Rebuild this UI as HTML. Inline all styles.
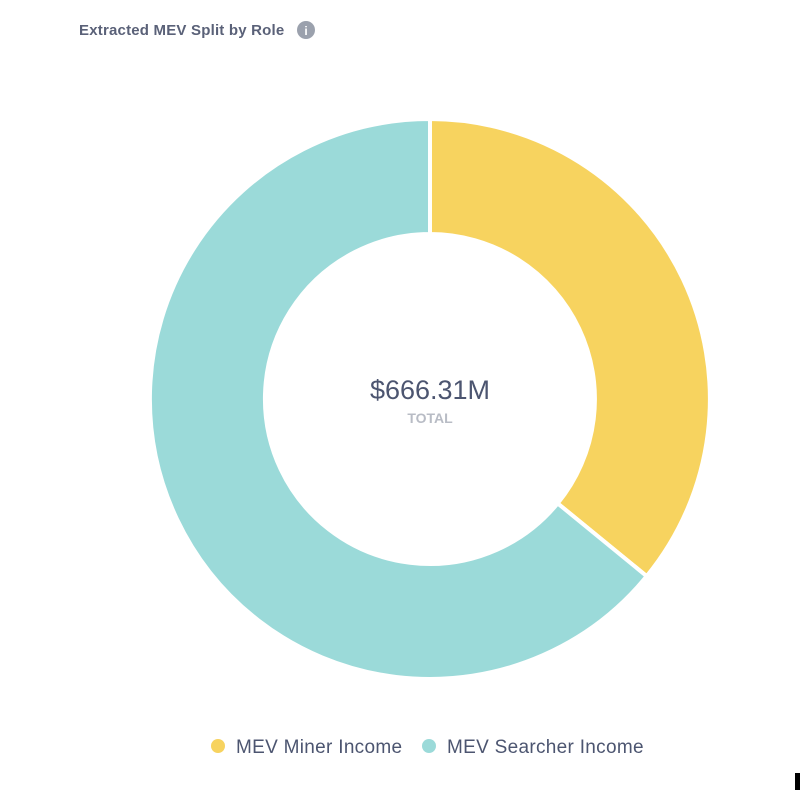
<!DOCTYPE html>
<html><head><style>
body{margin:0;width:805px;height:790px;background:#fff;overflow:hidden;font-family:"Liberation Sans",sans-serif}
</style></head><body>
<svg width="805" height="790" xmlns="http://www.w3.org/2000/svg" font-family="Liberation Sans, sans-serif">
<text x="79" y="35" font-size="15" font-weight="bold" fill="#5a6178" letter-spacing="0.2">Extracted MEV Split by Role</text>
<circle cx="306" cy="30" r="9" fill="#9ba1ad"/>
<text x="306" y="35" text-anchor="middle" font-size="12" font-weight="bold" fill="#fff">i</text>
<path d="M430 119 A280 280 0 0 1 646.7 576.2 L557.7 503.4 A165 165 0 0 0 430 234 Z" fill="#f7d35f" stroke="#fff" stroke-width="4"/>
<path d="M646.7 576.2 A280 280 0 1 1 430 119 L430 234 A165 165 0 1 0 557.7 503.4 Z" fill="#9bdad9" stroke="#fff" stroke-width="4"/>
<text x="430" y="399" text-anchor="middle" font-size="27" fill="#4c5570">$666.31M</text>
<text x="430" y="423" text-anchor="middle" font-size="14" font-weight="bold" fill="#b8bcc5">TOTAL</text>
<circle cx="218" cy="746" r="7" fill="#f7d35f"/>
<text x="236" y="753" font-size="19" fill="#4c5570" letter-spacing="0.3">MEV Miner Income</text>
<circle cx="429" cy="746" r="7" fill="#9bdad9"/>
<text x="447" y="753" font-size="19" fill="#4c5570" letter-spacing="0.3">MEV Searcher Income</text>
<rect x="795" y="773" width="5" height="17" fill="#000"/>
</svg>
</body></html>
